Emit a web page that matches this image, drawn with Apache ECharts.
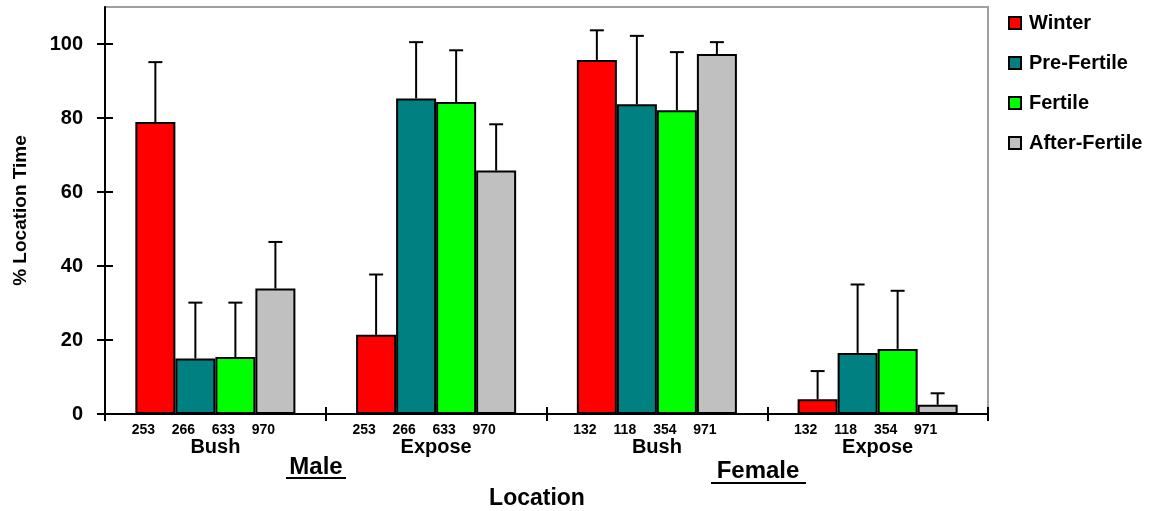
<!DOCTYPE html>
<html>
<head>
<meta charset="utf-8">
<script src="https://cdn.jsdelivr.net/npm/echarts@6/dist/echarts.min.js"></script>
<style>
  html, body { margin: 0; padding: 0; background: #fff; }
  #chart { width: 1172px; height: 511px; }
</style>
</head>
<body>
<div id="chart"></div>
<script>
// groups along the x axis
const categories = ['Bush', 'Expose', 'Bush', 'Expose'];
const seriesNames = ['Winter', 'Pre-Fertile', 'Fertile', 'After-Fertile'];

// mean % location time
const winter = [78.9, 21.4, 95.7, 4.0];
const preFertile = [15.0, 85.3, 83.7, 16.5];
const fertile = [15.4, 84.3, 82.1, 17.6];
const afterFertile = [33.9, 65.8, 97.3, 2.5];

// upper error (sd)
const winterErr = [16.2, 16.3, 8.0, 7.6];
const preFertileErr = [15.1, 15.2, 18.5, 18.5];
const fertileErr = [14.7, 14.0, 15.7, 15.7];
const afterFertileErr = [12.6, 12.5, 3.2, 3.1];

// sample sizes under each bar
const winterN = [253, 253, 132, 132];
const preFertileN = [266, 266, 118, 118];
const fertileN = [633, 633, 354, 354];
const afterFertileN = [970, 970, 971, 971];

const yTicks = [0, 20, 40, 60, 80, 100];

const colors = ['#ff0000', '#008080', '#00ff00', '#c0c0c0'];
const values = [winter, preFertile, fertile, afterFertile];
const errors = [winterErr, preFertileErr, fertileErr, afterFertileErr];
const counts = [winterN, preFertileN, fertileN, afterFertileN];

const font = '"Liberation Sans", Arial, sans-serif';
const gapRatio = 0.275;

const chart = echarts.init(document.getElementById('chart'));

const barSeries = seriesNames.map((name, k) => ({
  name: name,
  type: 'bar',
  xAxisIndex: 0,
  yAxisIndex: 0,
  barGap: 0,
  barCategoryGap: gapRatio * 100 + '%',
  itemStyle: { color: colors[k], borderColor: '#000', borderWidth: 2 },
  label: {
    show: true,
    position: 'bottom',
    distance: 9,
    offset: [-12, 0],
    color: '#000',
    fontFamily: font,
    fontWeight: 'bold',
    fontSize: 14,
    formatter: p => counts[k][p.dataIndex]
  },
  data: values[k]
}));

// error bars drawn over each bar
const errSeries = seriesNames.map((name, k) => ({
  name: name + ' err',
  type: 'custom',
  xAxisIndex: 0,
  yAxisIndex: 0,
  z: 5,
  renderItem: (params, api) => {
    const i = api.value(0);
    const v = api.value(1);
    const e = api.value(2);
    const base = api.coord([i, v]);
    const top = api.coord([i, v + e]);
    const band = api.size([1, 0])[0];
    const bw = band * (1 - gapRatio) / 4;
    const x = base[0] + (k - 1.5) * bw;
    const style = { stroke: '#000', lineWidth: 2 };
    return {
      type: 'group',
      children: [
        { type: 'line', shape: { x1: x, y1: base[1], x2: x, y2: top[1] }, style: style },
        { type: 'line', shape: { x1: x - 7, y1: top[1], x2: x + 7, y2: top[1] }, style: style }
      ]
    };
  },
  data: values[k].map((v, i) => [i, v, errors[k][i]])
}));

const tickStyle = { color: '#000', width: 2 };

const option = {
  animation: false,
  textStyle: { fontFamily: font, color: '#000' },
  grid: {
    left: 105, right: 184, top: 7, bottom: 97,
    show: true, borderColor: '#a0a0a0', borderWidth: 2
  },
  legend: {
    orient: 'vertical',
    left: 1003,
    top: 8,
    itemWidth: 12,
    itemHeight: 12,
    itemGap: 20,
    icon: 'rect',
    data: seriesNames,
    textStyle: { fontFamily: font, fontWeight: 'bold', fontSize: 20, color: '#000', padding: [0, 0, 0, 3] }
  },
  xAxis: [
    {
      type: 'category',
      data: categories,
      axisLine: { lineStyle: { color: '#000', width: 2 } },
      axisTick: { show: true, length: 7, lineStyle: tickStyle },
      axisLabel: { margin: 23, color: '#000', fontFamily: font, fontWeight: 'bold', fontSize: 20 }
    },
    {
      // inner half of the crossing ticks
      type: 'category',
      data: categories,
      position: 'top',
      offset: -407,
      axisLine: { show: false },
      axisTick: { show: true, length: 7, lineStyle: tickStyle },
      axisLabel: { show: false }
    }
  ],
  yAxis: [
    {
      type: 'value',
      min: 0,
      max: 110,
      interval: 20,
      axisLine: { show: true, lineStyle: { color: '#000', width: 2 } },
      axisTick: { show: true, length: 8, lineStyle: tickStyle, customValues: yTicks },
      splitLine: { show: false },
      axisLabel: {
        margin: 22, color: '#000', fontFamily: font, fontWeight: 'bold', fontSize: 20,
        customValues: yTicks
      },
      name: '% Location Time',
      nameLocation: 'middle',
      nameGap: 75,
      nameTextStyle: { fontFamily: font, fontWeight: 'bold', fontSize: 19, color: '#000' }
    },
    {
      type: 'value',
      min: 0,
      max: 110,
      interval: 20,
      position: 'right',
      offset: -883,
      axisLine: { show: false },
      axisTick: { show: true, length: 8, lineStyle: tickStyle, customValues: yTicks },
      splitLine: { show: false },
      axisLabel: { show: false }
    }
  ],
  graphic: [
    {
      type: 'text', x: 316, y: 467,
      style: { text: 'Male', align: 'center', verticalAlign: 'middle', fill: '#000', font: 'bold 24px ' + font }
    },
    { type: 'line', shape: { x1: 286, y1: 478, x2: 346, y2: 478 }, style: { stroke: '#000', lineWidth: 2 } },
    {
      type: 'text', x: 758, y: 471,
      style: { text: 'Female', align: 'center', verticalAlign: 'middle', fill: '#000', font: 'bold 24px ' + font }
    },
    { type: 'line', shape: { x1: 711, y1: 483, x2: 806, y2: 483 }, style: { stroke: '#000', lineWidth: 2 } },
    {
      type: 'text', x: 537, y: 499,
      style: { text: 'Location', align: 'center', verticalAlign: 'middle', fill: '#000', font: 'bold 23px ' + font }
    }
  ],
  series: barSeries.concat(errSeries)
};

chart.setOption(option);
</script>
</body>
</html>
